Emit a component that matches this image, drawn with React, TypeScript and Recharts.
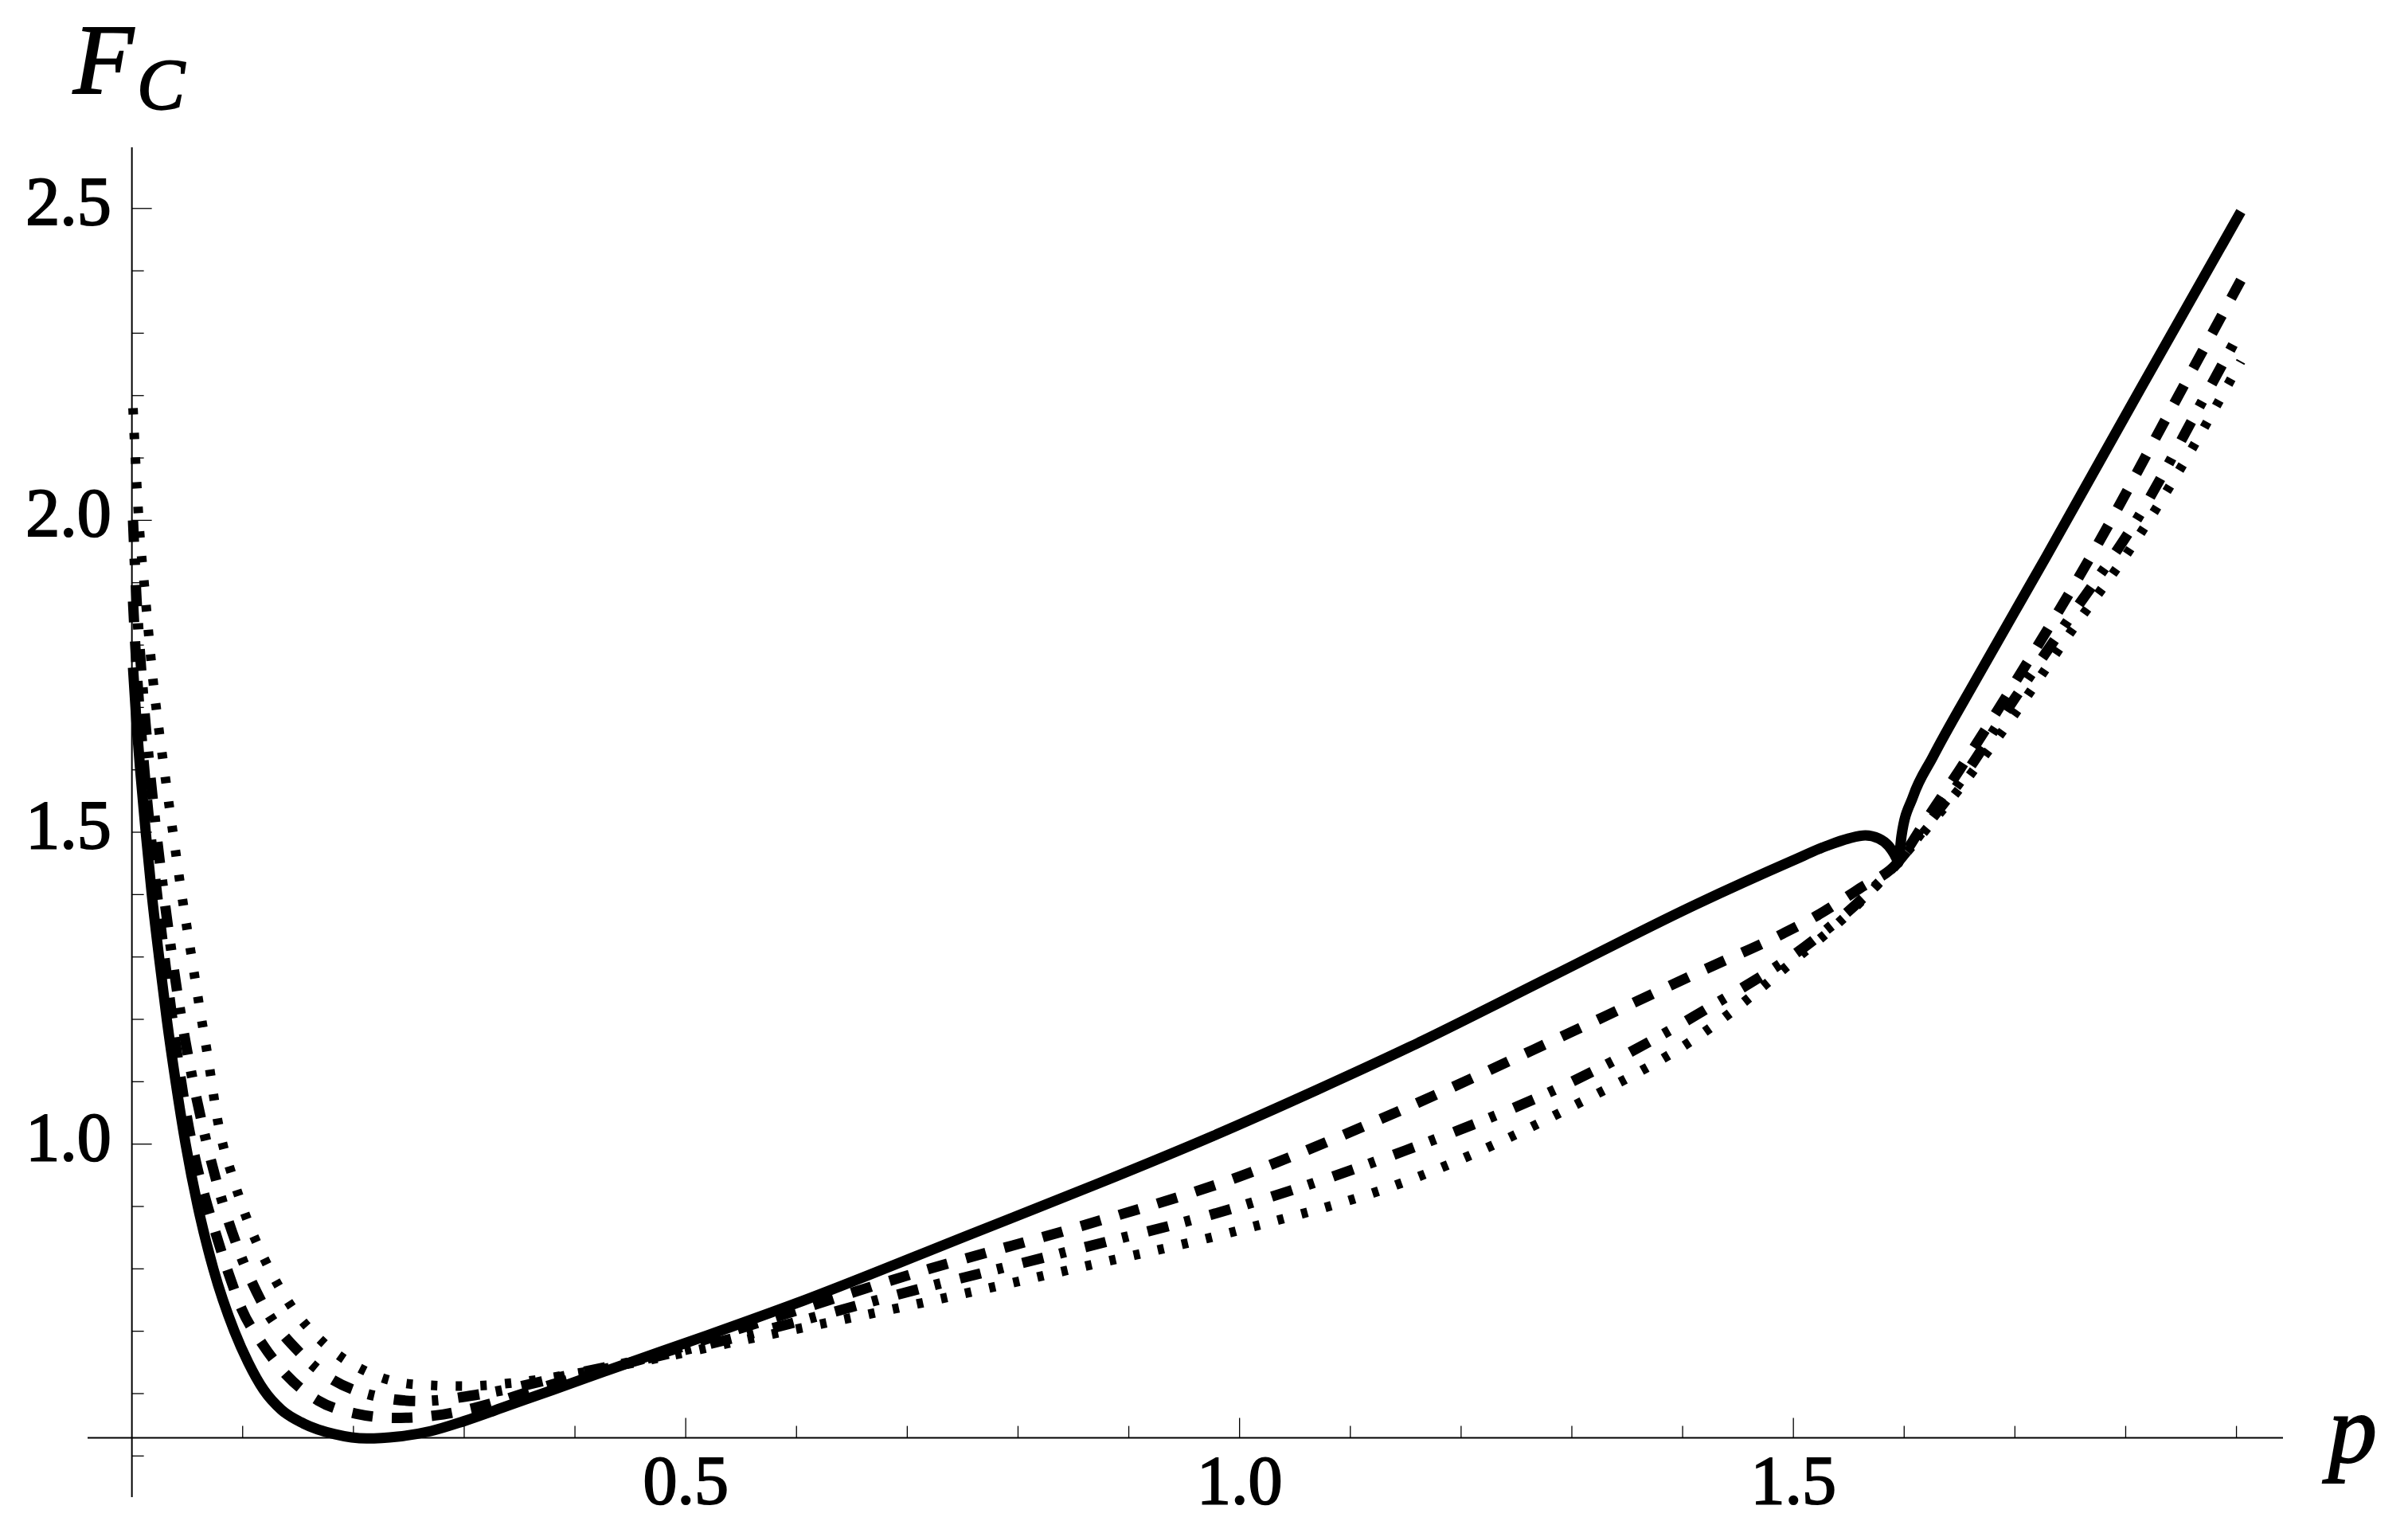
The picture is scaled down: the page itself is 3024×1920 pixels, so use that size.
import React from 'react'
import { LineChart, Line, XAxis, YAxis, ReferenceLine, ReferenceDot } from 'recharts'

// solid curve (with the small loop before the cusp)
const pSolid = [0.001, 0.004, 0.0075, 0.0125, 0.018, 0.0245, 0.0315, 0.0395, 0.0485, 0.0595, 0.0735, 0.0925, 0.105, 0.119, 0.135, 0.155, 0.183, 0.212, 0.240, 0.270, 0.300, 0.340, 0.380, 0.440, 0.519, 0.600, 0.758, 0.870, 0.976, 1.070, 1.154, 1.283, 1.413, 1.500, 1.530, 1.550, 1.565, 1.577, 1.586, 1.591, 1.5935, 1.5945, 1.5976, 1.608, 1.626, 1.665, 1.728, 1.814, 1.904]
const fSolid = [1.764, 1.68, 1.60, 1.50, 1.40, 1.30, 1.20, 1.10, 1.00, 0.90, 0.80, 0.70, 0.650, 0.606, 0.574, 0.552, 0.535, 0.528, 0.531, 0.540, 0.556, 0.581, 0.606, 0.644, 0.693, 0.745, 0.856, 0.935, 1.013, 1.087, 1.156, 1.270, 1.385, 1.455, 1.478, 1.490, 1.495, 1.490, 1.478, 1.465, 1.456, 1.451, 1.494, 1.557, 1.621, 1.745, 1.941, 2.213, 2.495]

// dashed
const pDashed = [0.001, 0.004, 0.008, 0.013, 0.019, 0.026, 0.034, 0.042, 0.050, 0.058, 0.066, 0.076, 0.087, 0.099, 0.118, 0.140, 0.168, 0.202, 0.238, 0.274, 0.309, 0.380, 0.460, 0.550, 0.720, 0.850, 1.000, 1.131, 1.300, 1.420, 1.490, 1.521, 1.560, 1.594, 1.620, 1.650, 1.700, 1.771, 1.840, 1.904]
const fDashed = [1.87, 1.77, 1.67, 1.565, 1.46, 1.35, 1.235, 1.13, 1.04, 0.97, 0.915, 0.855, 0.794, 0.736, 0.679, 0.629, 0.589, 0.568, 0.561, 0.565, 0.577, 0.615, 0.655, 0.705, 0.800, 0.865, 0.948, 1.043, 1.18, 1.28, 1.337, 1.366, 1.41, 1.451, 1.52, 1.60, 1.74, 1.95, 2.175, 2.385]

// dot-dashed
const pDotDash = [0.001, 0.004, 0.008, 0.013, 0.019, 0.026, 0.034, 0.043, 0.053, 0.063, 0.0767, 0.0947, 0.118, 0.1535, 0.202, 0.2595, 0.318, 0.400, 0.470, 0.550, 0.720, 0.850, 1.000, 1.150, 1.300, 1.420, 1.521, 1.560, 1.594, 1.620, 1.650, 1.700, 1.750, 1.811, 1.868, 1.904]
const fDotDash = [2.0, 1.88, 1.77, 1.66, 1.55, 1.44, 1.33, 1.22, 1.12, 1.036, 0.938, 0.838, 0.744, 0.662, 0.605, 0.588, 0.600, 0.632, 0.658, 0.692, 0.772, 0.830, 0.900, 0.990, 1.100, 1.215, 1.331, 1.39, 1.451, 1.51, 1.58, 1.715, 1.845, 2.004, 2.187, 2.305]

// dotted
const pDotted = [0.001, 0.004, 0.007, 0.011, 0.015, 0.019, 0.024, 0.030, 0.037, 0.045, 0.053, 0.061, 0.069, 0.0772, 0.0827, 0.0892, 0.1036, 0.1218, 0.1439, 0.1739, 0.211, 0.254, 0.299, 0.343, 0.400, 0.470, 0.550, 0.720, 0.850, 1.000, 1.150, 1.300, 1.420, 1.503, 1.550, 1.594, 1.620, 1.650, 1.700, 1.750, 1.810, 1.855, 1.904]
const fDotted = [2.18, 2.07, 1.98, 1.90, 1.82, 1.745, 1.67, 1.59, 1.50, 1.40, 1.31, 1.22, 1.135, 1.04, 0.995, 0.957, 0.881, 0.808, 0.740, 0.680, 0.636, 0.615, 0.612, 0.617, 0.632, 0.655, 0.685, 0.748, 0.800, 0.862, 0.940, 1.060, 1.180, 1.298, 1.37, 1.451, 1.505, 1.57, 1.69, 1.82, 1.97, 2.10, 2.255]

const xMajor = [0.5, 1.0, 1.5]
const xMajorLabels = ['0.5', '1.0', '1.5']
const xMinor = [0.1, 0.2, 0.3, 0.4, 0.6, 0.7, 0.8, 0.9, 1.1, 1.2, 1.3, 1.4, 1.6, 1.7, 1.8, 1.9]
const yMajor = [1.0, 1.5, 2.0, 2.5]
const yMajorLabels = ['1.0', '1.5', '2.0', '2.5']
const yMinor = [0.5, 0.6, 0.7, 0.8, 0.9, 1.1, 1.2, 1.3, 1.4, 1.6, 1.7, 1.8, 1.9, 2.1, 2.2, 2.3, 2.4]

// where the p axis crosses the F axis
const axisY = 0.529

const zip = (ps: number[], fs: number[]) => ps.map((p, i) => ({ p, f: fs[i] }))

const serif = '"Liberation Serif", "Times New Roman", Times, serif'
// the original labels are rasterised a bit heavy; a thin outline imitates that
const labelInk = { fill: '#000', stroke: '#000', strokeWidth: 2 }

const xTick = (len: number, label?: string) => (props: any) => {
  const { cx, cy } = props
  return (
    <g>
      <line x1={cx} x2={cx} y1={cy} y2={cy - len} stroke="#000" strokeWidth={1.3} />
      {label && (
        <text x={cx} y={cy + 82} textAnchor="middle" fontFamily={serif} fontSize={86} {...labelInk}>
          {label}
        </text>
      )}
    </g>
  )
}

const yTick = (len: number, label?: string) => (props: any) => {
  const { cx, cy } = props
  return (
    <g>
      <line x1={cx} x2={cx + len} y1={cy} y2={cy} stroke="#000" strokeWidth={1.3} />
      {label && (
        <text x={cx - 26} y={cy + 20} textAnchor="end" fontFamily={serif} fontSize={86} {...labelInk}>
          {label}
        </text>
      )}
    </g>
  )
}

export default function App() {
  return (
    <div style={{ position: 'absolute', left: 0, top: 0, width: 3024, height: 1920, background: '#fff' }}>
      <LineChart width={3024} height={1920} margin={{ top: 185, right: 157, bottom: 40, left: 110 }}>
        <XAxis type="number" dataKey="p" domain={[-0.04, 1.942]} hide allowDataOverflow />
        <YAxis type="number" dataKey="f" domain={[0.434, 2.598]} hide allowDataOverflow />

        <ReferenceLine y={axisY} stroke="#000" strokeWidth={2} />
        <ReferenceLine x={0} stroke="#000" strokeWidth={2} />

        {xMinor.map((t) => (
          <ReferenceDot key={'xm' + t} x={t} y={axisY} shape={xTick(15)} />
        ))}
        {xMajor.map((t, i) => (
          <ReferenceDot key={'xM' + t} x={t} y={axisY} shape={xTick(25, xMajorLabels[i])} />
        ))}
        {yMinor.map((t) => (
          <ReferenceDot key={'ym' + t} x={0} y={t} shape={yTick(15)} />
        ))}
        {yMajor.map((t, i) => (
          <ReferenceDot key={'yM' + t} x={0} y={t} shape={yTick(25, yMajorLabels[i])} />
        ))}

        <Line data={zip(pDotted, fDotted)} dataKey="f" type="monotoneX" stroke="#000" strokeWidth={12}
          strokeDasharray="8 23" strokeLinecap="butt" dot={false} activeDot={false} isAnimationActive={false} />
        <Line data={zip(pDotDash, fDotDash)} dataKey="f" type="monotoneX" stroke="#000" strokeWidth={13}
          strokeDasharray="27 21 8 25" strokeLinecap="butt" dot={false} activeDot={false} isAnimationActive={false} />
        <Line data={zip(pDashed, fDashed)} dataKey="f" type="monotoneX" stroke="#000" strokeWidth={13}
          strokeDasharray="26 24" strokeLinecap="butt" dot={false} activeDot={false} isAnimationActive={false} />
        <Line data={zip(pSolid, fSolid)} dataKey="f" type="monotoneX" stroke="#000" strokeWidth={13}
          strokeLinecap="butt" dot={false} activeDot={false} isAnimationActive={false} />
      </LineChart>

      <svg width={3024} height={1920} style={{ position: 'absolute', left: 0, top: 0, pointerEvents: 'none' }}>
        <text x={92} y={117} fontFamily={serif} fontStyle="italic" fontSize={124} {...labelInk}>F</text>
        <text x={172} y={137} fontFamily={serif} fontStyle="italic" fontSize={90} {...labelInk}>C</text>
        <text x={2924} y={1836} fontFamily={serif} fontStyle="italic" fontSize={122} {...labelInk}>p</text>
      </svg>
    </div>
  )
}
